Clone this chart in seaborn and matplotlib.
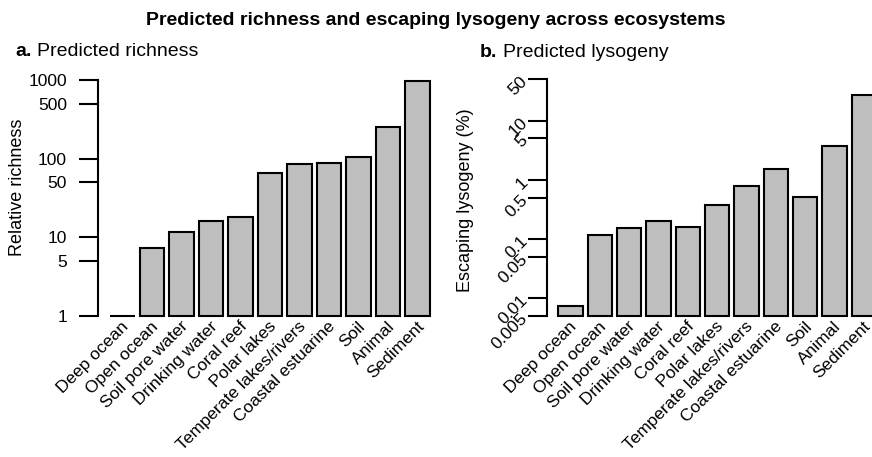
import numpy as np
import pandas as pd
import seaborn as sns
import matplotlib
matplotlib.use('Agg')
import matplotlib.pyplot as plt
from matplotlib.transforms import ScaledTranslation

# Ecosystems, in the order shown
ecosystems = ['Deep ocean', 'Open ocean', 'Soil pore water', 'Drinking water', 'Coral reef',
              'Polar lakes', 'Temperate lakes/rivers', 'Coastal estuarine', 'Soil', 'Animal', 'Sediment']

# Values (log axes)
richness = [1.0, 7.2, 11.7, 16.0, 17.9, 65, 85, 88, 104, 249, 977]
lysogeny = [0.0074, 0.116, 0.152, 0.202, 0.160, 0.373, 0.79, 1.50, 0.515, 3.7, 27.1]

richness_ticks = [1, 5, 10, 50, 100, 500, 1000]
lysogeny_ticks = [0.005, 0.01, 0.05, 0.1, 0.5, 1, 5, 10, 50]

sns.set_style('ticks')
plt.rcParams['font.family'] = ['Liberation Sans', 'DejaVu Sans']
plt.rcParams.update({'text.color': 'black', 'axes.labelcolor': 'black',
                     'xtick.color': 'black', 'ytick.color': 'black', 'axes.edgecolor': 'black'})
TICK_FS = 12.5
LABEL_FS = 13
TITLE_FS = 14

df = pd.DataFrame({'Ecosystem': ecosystems, 'Richness': richness, 'Lysogeny': lysogeny})

W, H = 872, 457
fig = plt.figure(figsize=(W / 100, H / 100), dpi=100)


def px_axes(left, bottom_px, right, top_px):
    return fig.add_axes([left / W, 1 - bottom_px / H, (right - left) / W, (bottom_px - top_px) / H])


def draw_panel(ax, col, ticks, tick_labels, ylabel, rot):
    ymin, ymax = ticks[0], ticks[-1]
    ax.set_yscale('log')
    sns.barplot(data=df, x='Ecosystem', y=col, color='#bebebe', saturation=1,
                width=1 / 1.2, edgecolor='black', linewidth=1.5, ax=ax)
    # bars start at the bottom of the axis like R's log barplot
    for p in ax.patches:
        top = p.get_y() + p.get_height()
        p.set_y(ymin)
        p.set_height(top - ymin)
        p.set_clip_on(False)
    ax.set_ylim(ymin, ymax)
    ax.set_xlim(-0.8125, 10.85)
    ax.set_yticks(ticks)
    ax.yaxis.set_minor_locator(matplotlib.ticker.NullLocator())
    if rot:
        ax.set_yticklabels(tick_labels, rotation=45, ha='right', va='center',
                           rotation_mode='anchor', fontsize=TICK_FS)
        ax.tick_params(axis='y', pad=2)
    else:
        ax.set_yticklabels(tick_labels, fontsize=TICK_FS)
        ax.tick_params(axis='y', pad=9)
    ax.tick_params(axis='y', length=13.5, width=1.5, direction='out')
    ax.set_xticks(range(len(ecosystems)))
    ax.set_xticklabels(ecosystems, rotation=45, ha='right', va='center',
                       rotation_mode='anchor', fontsize=TICK_FS)
    ax.tick_params(axis='x', length=0, pad=6)
    shift = ScaledTranslation(0.04, 0, fig.dpi_scale_trans)
    for lab in ax.get_xticklabels():
        lab.set_transform(lab.get_transform() + shift)
    for s in ['top', 'right', 'bottom']:
        ax.spines[s].set_visible(False)
    ax.spines['left'].set_linewidth(1.5)
    ax.spines['left'].set_bounds(ymin, ymax)
    ax.set_xlabel('')
    ax.set_ylabel(ylabel, fontsize=LABEL_FS)
    ax.set_facecolor('none')


ax1 = px_axes(98.3, 315.7, 442.8, 80)
draw_panel(ax1, 'Richness', richness_ticks, [str(t) for t in richness_ticks], 'Relative richness', False)
ax1.yaxis.set_label_coords(-0.21, 0.544)

ax2 = px_axes(546.7, 315.7, 888.7, 79.3)
draw_panel(ax2, 'Lysogeny', lysogeny_ticks, [f'{t:g}' for t in lysogeny_ticks], 'Escaping lysogeny (%)', True)
ax2.yaxis.set_label_coords(-0.2126, 0.489)

fig.text(0.5, 1 - 25 / H, 'Predicted richness and escaping lysogeny across ecosystems',
         ha='center', va='baseline', fontsize=TITLE_FS, fontweight='bold')
fig.text(15 / W, 1 - 56 / H, 'a.', ha='left', va='baseline', fontsize=TITLE_FS, fontweight='bold')
fig.text(36.7 / W, 1 - 56 / H, 'Predicted richness', ha='left', va='baseline', fontsize=TITLE_FS)
fig.text(480 / W, 1 - 57 / H, 'b.', ha='left', va='baseline', fontsize=TITLE_FS, fontweight='bold')
fig.text(503.3 / W, 1 - 57 / H, 'Predicted lysogeny', ha='left', va='baseline', fontsize=TITLE_FS)

fig.savefig('out.png', dpi=100)
